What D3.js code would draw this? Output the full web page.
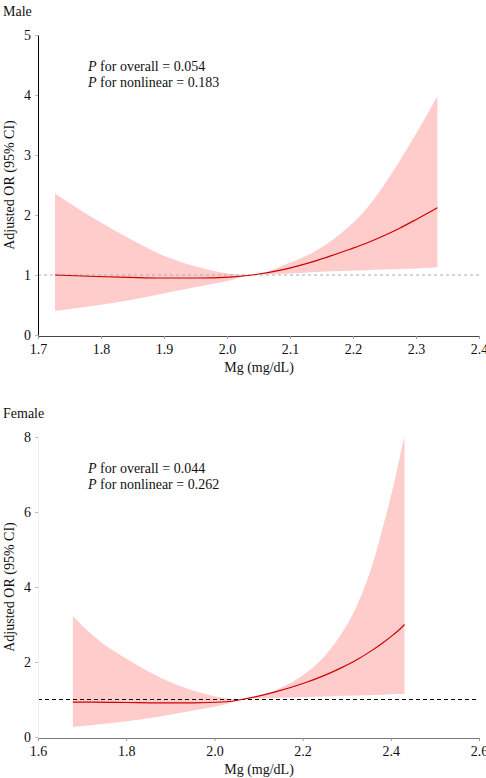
<!DOCTYPE html>
<html>
<head>
<meta charset="utf-8">
<script src="https://cdn.jsdelivr.net/npm/d3@7"></script>
<style>
  body { margin: 0; background: #fff; }
  svg text { font-family: "Liberation Serif", "DejaVu Serif", serif; fill: #111; }
</style>
</head>
<body>
<script>
// male panel
var maleX = [1.727, 1.792, 1.845, 1.898, 1.951, 2.004, 2.04, 2.089, 2.142, 2.195, 2.221, 2.248, 2.274, 2.301, 2.322, 2.334];
var maleEst = [1.00, 0.975, 0.96, 0.95, 0.95, 0.965, 1.0, 1.09, 1.24, 1.43, 1.53, 1.65, 1.78, 1.93, 2.05, 2.12];
var maleLo = [0.40, 0.49, 0.58, 0.69, 0.80, 0.91, 1.0, 1.02, 1.05, 1.07, 1.08, 1.09, 1.10, 1.11, 1.12, 1.13];
var maleHi = [2.36, 1.92, 1.61, 1.33, 1.14, 1.02, 1.0, 1.16, 1.41, 1.82, 2.10, 2.48, 2.90, 3.37, 3.76, 3.98];
var maleXTicks = [1.7, 1.8, 1.9, 2.0, 2.1, 2.2, 2.3, 2.4];
var maleYTicks = [0, 1, 2, 3, 4, 5];

// female panel
var femaleX = [1.679, 1.725, 1.801, 1.877, 1.952, 2.028, 2.062, 2.134, 2.209, 2.247, 2.285, 2.323, 2.360, 2.383, 2.406, 2.421, 2.431];
var femaleEst = [0.93, 0.93, 0.92, 0.91, 0.91, 0.94, 1.0, 1.19, 1.46, 1.63, 1.83, 2.06, 2.33, 2.52, 2.73, 2.88, 3.0];
var femaleLo = [0.27, 0.32, 0.42, 0.55, 0.71, 0.88, 1.0, 1.04, 1.07, 1.08, 1.10, 1.11, 1.12, 1.13, 1.14, 1.145, 1.15];
var femaleHi = [3.22, 2.70, 2.08, 1.59, 1.24, 1.03, 1.0, 1.23, 1.72, 2.12, 2.70, 3.50, 4.66, 5.64, 6.70, 7.50, 8.03];
var femaleXTicks = [1.6, 1.8, 2.0, 2.2, 2.4, 2.6];
var femaleYTicks = [0, 2, 4, 6, 8];

var width = 486, height = 778;
var svg = d3.select('body').append('svg')
  .attr('width', width)
  .attr('height', height);

function panel(opt) {
  var x = d3.scaleLinear().domain(opt.xDomain).range([38, 479]);
  var y = d3.scaleLinear().domain(opt.yDomain).range([opt.bottom, opt.top]);
  var g = svg.append('g');
  var pts = opt.xs.map(function(d, i) {
    return { x: d, est: opt.est[i], lo: opt.lo[i], hi: opt.hi[i] };
  });

  g.append('path')
    .datum(pts)
    .attr('fill', '#ffcccc')
    .attr('d', d3.area()
      .curve(d3.curveMonotoneX)
      .x(function(d) { return x(d.x); })
      .y0(function(d) { return y(d.lo); })
      .y1(function(d) { return y(d.hi); }));

  // reference line at OR = 1
  g.append('line')
    .attr('x1', x(opt.xDomain[0])).attr('x2', x(opt.xDomain[1]))
    .attr('y1', y(1)).attr('y2', y(1))
    .attr('stroke', opt.refColor)
    .attr('stroke-width', 1)
    .attr('stroke-dasharray', opt.refDash);

  g.append('path')
    .datum(pts)
    .attr('fill', 'none')
    .attr('stroke', '#cc0000')
    .attr('stroke-width', 1.2)
    .attr('d', d3.line()
      .curve(d3.curveMonotoneX)
      .x(function(d) { return x(d.x); })
      .y(function(d) { return y(d.est); }));

  var xa = g.append('g')
    .attr('transform', 'translate(0,' + (opt.bottom + 1) + ')')
    .call(d3.axisBottom(x).tickValues(opt.xTicks).tickSize(3).tickSizeOuter(0)
      .tickFormat(d3.format('.1f')));
  xa.select('.domain').attr('stroke', opt.xAxisColor);
  xa.selectAll('.tick line').attr('stroke', '#999');
  xa.selectAll('text').attr('font-size', 14).attr('dy', '0.85em');

  var ya = g.append('g')
    .attr('transform', 'translate(38,0)')
    .call(d3.axisLeft(y).tickValues(opt.yTicks).tickSize(3).tickSizeOuter(0)
      .tickFormat(d3.format('d')));
  ya.select('.domain').attr('stroke', opt.yAxisColor);
  ya.selectAll('.tick line').attr('stroke', '#bbb');
  ya.selectAll('text').attr('font-size', 14).attr('x', -7);

  svg.append('text')
    .attr('x', 3).attr('y', opt.top - 19)
    .attr('font-size', 14)
    .text(opt.title);

  svg.append('text')
    .attr('transform', 'translate(14,' + ((opt.top + opt.bottom) / 2) + ') rotate(-90)')
    .attr('text-anchor', 'middle')
    .attr('font-size', 14)
    .text('Adjusted OR (95% CI)');

  svg.append('text')
    .attr('x', 259).attr('y', opt.bottom + 37)
    .attr('text-anchor', 'middle')
    .attr('font-size', 14)
    .text('Mg (mg/dL)');

  opt.pText.forEach(function(t, i) {
    var tx = svg.append('text')
      .attr('x', 88).attr('y', opt.top + 36 + i * 16)
      .attr('font-size', 14);
    tx.append('tspan').attr('font-style', 'italic').text('P');
    tx.append('tspan').text(t);
  });
}

panel({
  title: 'Male',
  xs: maleX, est: maleEst, lo: maleLo, hi: maleHi,
  xDomain: [1.7, 2.4], yDomain: [0, 5],
  xTicks: maleXTicks, yTicks: maleYTicks,
  top: 35, bottom: 335,
  refColor: '#aaa', refDash: '3,3',
  xAxisColor: '#444', yAxisColor: '#000',
  pText: [' for overall = 0.054', ' for nonlinear = 0.183']
});

panel({
  title: 'Female',
  xs: femaleX, est: femaleEst, lo: femaleLo, hi: femaleHi,
  xDomain: [1.6, 2.6], yDomain: [0, 8],
  xTicks: femaleXTicks, yTicks: femaleYTicks,
  top: 437, bottom: 737,
  refColor: '#000', refDash: '4,3',
  xAxisColor: '#777', yAxisColor: '#eee',
  pText: [' for overall = 0.044', ' for nonlinear = 0.262']
});
</script>
</body>
</html>
